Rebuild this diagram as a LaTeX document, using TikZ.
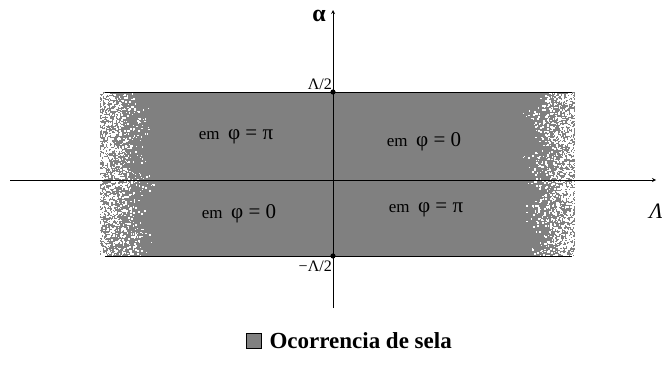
\documentclass[tikz,border=0pt]{standalone}
\usepackage{fontspec}
\setmainfont{Liberation Serif}
\usepackage{tikz}
\usetikzlibrary{calc,arrows.meta}
\definecolor{sela}{RGB}{128,128,128}

\begin{document}
\begin{tikzpicture}[x=1pt,y=-1pt,>=stealth]
		\useasboundingbox (0,0) rectangle (662,367);
		
%		faixa
		\def\xa{100}
		\def\xb{575}
		\def\ya{92}
		\def\yb{256}
		\fill[sela] (\xa,\ya) rectangle (\xb,\yb);
		
%		bordas esfumadas
		\pgfmathsetseed{11}
		\foreach \i in {1,...,1500}{
			\pgfmathsetmacro\fy{\ya+(\yb-\ya)*rnd}
			\pgfmathsetmacro\fw{54+9*sin(deg(\fy/9))+5*sin(deg(\fy/4))}
			\pgfmathsetmacro\fx{\xa-1+\fw*(1-pow(rnd,0.4))}
			\pgfmathsetmacro\fs{1+rnd}
			\fill[white] (\fx,\fy) rectangle ++(\fs,\fs);
			\pgfmathsetmacro\gy{\ya+(\yb-\ya)*rnd}
			\pgfmathsetmacro\gw{50+8*sin(deg(\gy/8))+5*sin(deg(\gy/3.5))}
			\pgfmathsetmacro\gx{\xb+1-\gw*(1-pow(rnd,0.4))}
			\pgfmathsetmacro\gs{1+rnd}
			\fill[white] (\gx,\gy) rectangle ++(-\gs,\gs);
		}
		
		\draw[line width=0.9pt] (\xa+5,\ya) -- (\xb-3,\ya);
		\draw[line width=0.9pt] (\xa+5,\yb) -- (\xb-3,\yb);
		
%		eixos
		\coordinate (h0) at (10,180);
		\coordinate (h1) at (656,180);
		\coordinate (v0) at (333,308);
		\coordinate (v1) at (333,10);
		\draw[->,line width=0.8pt] (h0) -- (h1);
		\draw[->,line width=0.8pt] (v0) -- (v1);
		
		\path[fill] (333,\ya) circle (2.6pt) coordinate (top);
		\path[fill] (333,\yb) circle (2.6pt) coordinate (bot);
		
		\node (alfa) at (319,16) {\fontsize{24}{24}\selectfont\bfseries α};
		\node (lam) at (656,211) {\fontsize{22}{22}\selectfont\itshape Λ};
		\node[left,inner sep=1pt] (l1) at (333,84) {\fontsize{16}{16}\selectfont Λ/2};
		\node[left,inner sep=1pt] (l2) at (333,266) {\fontsize{16}{16}\selectfont −Λ/2};
		
		\node (q1) at (236,137) {\fontsize{17}{17}\selectfont em\ \ {\fontsize{21}{21}\selectfont φ = π}};
		\node (q2) at (424,142) {\fontsize{17}{17}\selectfont em\ \ {\fontsize{21}{21}\selectfont φ = 0}};
		\node (q3) at (239,214) {\fontsize{17}{17}\selectfont em\ \ {\fontsize{21}{21}\selectfont φ = 0}};
		\node (q4) at (426,210) {\fontsize{17}{17}\selectfont em\ \ {\fontsize{21}{21}\selectfont φ = π}};
		
%		legenda
		\draw[fill=sela,line width=0.8pt] (246,333) rectangle (261,348);
		\node[right] (leg) at (266,341) {\fontsize{23}{23}\selectfont\bfseries Ocorrencia de sela};
		\end{tikzpicture}
\end{document}
